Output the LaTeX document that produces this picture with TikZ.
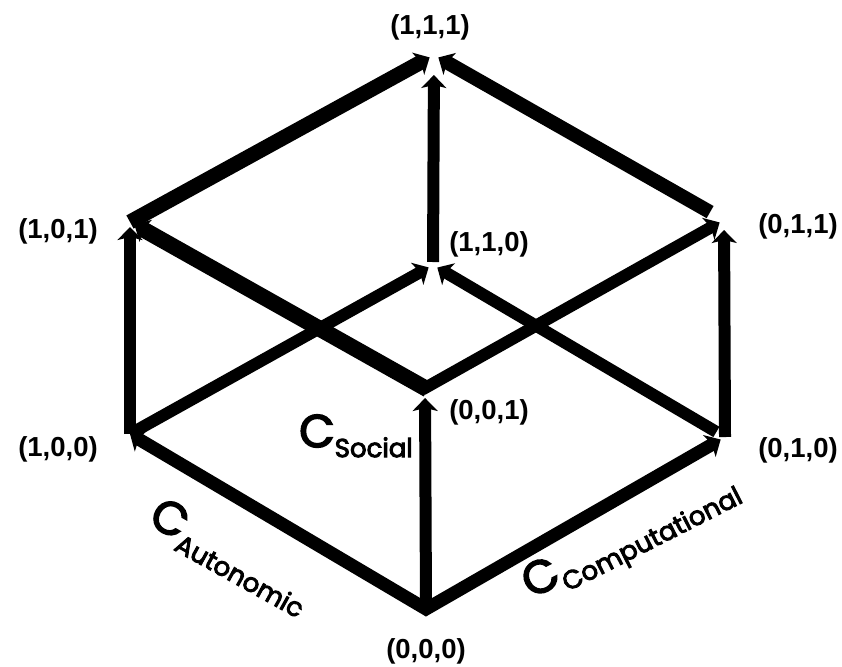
\documentclass[tikz,border=0pt]{standalone}
\usepackage{fontspec}
\setmainfont{Liberation Sans}
\newfontfamily\comicfont[FakeBold=3.5]{Poppins}
\usetikzlibrary{arrows.meta}

\newcommand{\dimname}[1]{{\fontsize{46}{46}\selectfont C}\raisebox{-10pt}{\fontsize{26}{26}\selectfont #1}}

\begin{document}
\begin{tikzpicture}[
    x=1pt, y=-1pt,
    >={Stealth[length=13pt,width=25pt,inset=3pt]},
    edge/.style={->, line width=#1, shorten >=5pt},
    edge/.default=12pt,
    vlab/.style={font=\fontsize{27.5}{27.5}\selectfont\bfseries, inner sep=0pt},
    dimlab/.style={font=\comicfont, inner sep=0pt},
]
  \useasboundingbox (0,0) rectangle (842,666);

  % ---------------- cube corners ----------------
  \coordinate (p000) at (426,609);
  \coordinate (p100) at (130,434);
  \coordinate (p010) at (725,437);
  \coordinate (p001) at (425,388);
  \coordinate (p110) at (433,265);
  \coordinate (p101) at (130,222);
  \coordinate (p011) at (724,220);
  \coordinate (p111) at (434,55);

  % ---------------- corner labels ----------------
  \node[vlab] (t000) at (426,651) {(0,0,0)};
  \node[vlab] (t100) at (58,449)  {(1,0,0)};
  \node[vlab] (t010) at (798,450) {(0,1,0)};
  \node[vlab] (t001) at (489,412) {(0,0,1)};
  \node[vlab] (t110) at (489,244) {(1,1,0)};
  \node[vlab] (t101) at (58,231)  {(1,0,1)};
  \node[vlab] (t011) at (798,226) {(0,1,1)};
  \node[vlab] (t111) at (430,27)  {(1,1,1)};

  % ---------------- axis names ----------------
  \node[dimlab] (social) at (356,436) {\dimname{Social}};
  \node[dimlab, rotate=-29] (auto) at (230,557) {\dimname{Autonomic}};
  \node[dimlab, rotate=27] (comp) at (632,539) {\dimname{Computational}};

  % ---------------- edges ----------------
  % from the origin
  \draw[edge=13pt, <->] (p100) -- (p000) -- (p010);
  \draw[edge, shorten >=10pt] (p000) -- (p001);
  % up the sides
  \draw[edge] (p100) -- (p101);
  \draw[edge, shorten >=10pt] (p010) -- (p011);
  \draw[edge, shorten <=4pt] (p100) -- (p110);
  \draw[edge, shorten <=10pt] (p010) -- (p110);
  \draw[edge=16pt, shorten <=-3pt] (p001) -- (p101);
  \draw[edge, shorten <=-3pt] (p001) -- (p011);
  % to the top corner
  \draw[edge=15pt] (p101) -- (p111);
  \draw[edge=14pt, shorten <=16pt] (p011) -- (p111);
  \draw[edge, shorten <=3pt, shorten >=20pt] (p110) -- (p111);
\end{tikzpicture}
\end{document}
